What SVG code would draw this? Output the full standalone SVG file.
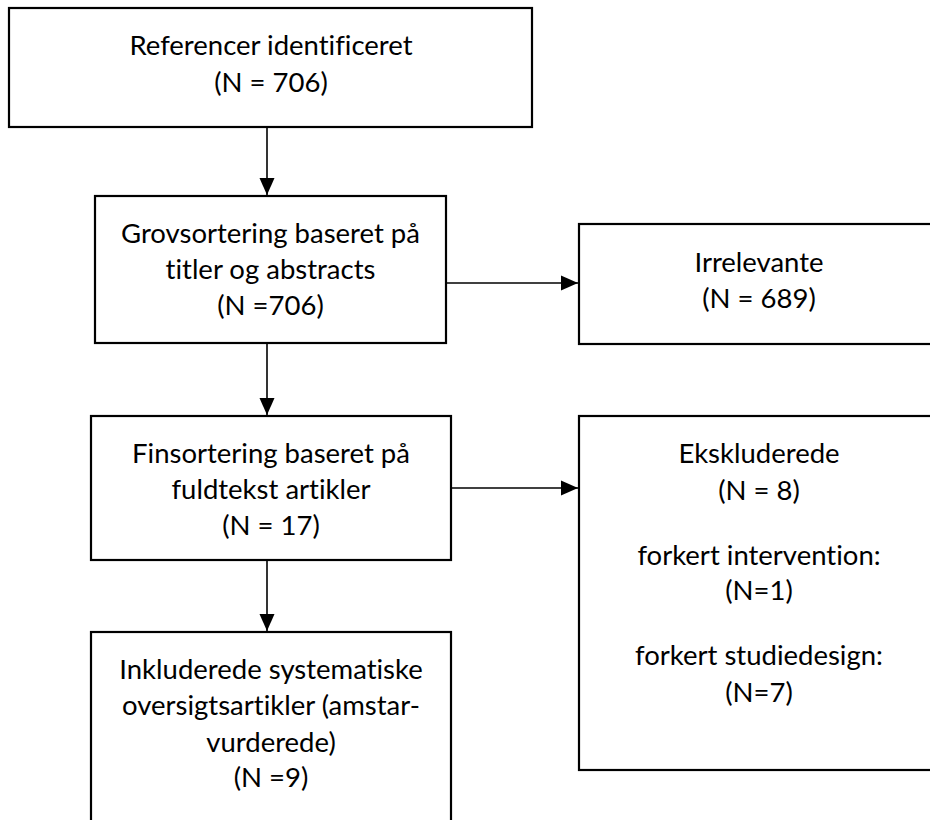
<svg xmlns="http://www.w3.org/2000/svg" width="930" height="820" viewBox="0 0 930 820">
<style>
.box{fill:#fff;stroke:#000;stroke-width:2.2}
.t{font-family:Lato,"Open Sans","Liberation Sans",sans-serif;font-size:27.5px;fill:#000;text-anchor:middle;font-variant-ligatures:none}
.c{stroke:#000;stroke-width:1.6;fill:none;marker-end:url(#ah)}
</style>
<defs>
<marker id="ah" markerUnits="userSpaceOnUse" markerWidth="17" markerHeight="16" viewBox="0 0 17 16" refX="17" refY="8" orient="auto">
<path d="M0,0.5 L17,8 L0,15.5 Z" fill="#000"/>
</marker>
</defs>
<rect width="930" height="820" fill="#fff"/>
<g id="connectors">
<line class="c" x1="267" y1="127" x2="267" y2="195"/>
<line class="c" x1="446" y1="283" x2="578" y2="283"/>
<line class="c" x1="267" y1="343" x2="267" y2="415"/>
<line class="c" x1="451" y1="488" x2="578" y2="488"/>
<line class="c" x1="267" y1="560" x2="267" y2="631"/>
</g>
<g id="n1">
<rect class="box" x="9" y="8" width="523" height="119"/>
<text class="t" x="271" y="55">Referencer identificeret</text>
<text class="t" x="271" y="92">(N = 706)</text>
</g>
<g id="n2">
<rect class="box" x="95" y="196" width="351" height="147"/>
<text class="t" x="270.5" y="243">Grovsortering baseret på</text>
<text class="t" x="270.5" y="279">titler og abstracts</text>
<text class="t" x="270.5" y="315">(N =706)</text>
</g>
<g id="n3">
<rect class="box" x="579" y="224" width="400" height="120"/>
<text class="t" x="759" y="272">Irrelevante</text>
<text class="t" x="759" y="308">(N = 689)</text>
</g>
<g id="n4">
<rect class="box" x="91" y="416" width="360" height="144"/>
<text class="t" x="271" y="463">Finsortering baseret på</text>
<text class="t" x="271" y="499">fuldtekst artikler</text>
<text class="t" x="271" y="535">(N = 17)</text>
</g>
<g id="n5">
<rect class="box" x="579" y="416" width="400" height="354"/>
<text class="t" x="759" y="463">Ekskluderede</text>
<text class="t" x="759" y="500">(N = 8)</text>
<text class="t" x="759" y="565">forkert intervention:</text>
<text class="t" x="759" y="600">(N=1)</text>
<text class="t" x="759" y="665">forkert studiedesign:</text>
<text class="t" x="759" y="702">(N=7)</text>
</g>
<g id="n6">
<rect class="box" x="91" y="632" width="360" height="220"/>
<text class="t" x="271" y="679">Inkluderede systematiske</text>
<text class="t" x="271" y="715">oversigtsartikler (amstar-</text>
<text class="t" x="271" y="752">vurderede)</text>
<text class="t" x="271" y="787">(N =9)</text>
</g>
</svg>
